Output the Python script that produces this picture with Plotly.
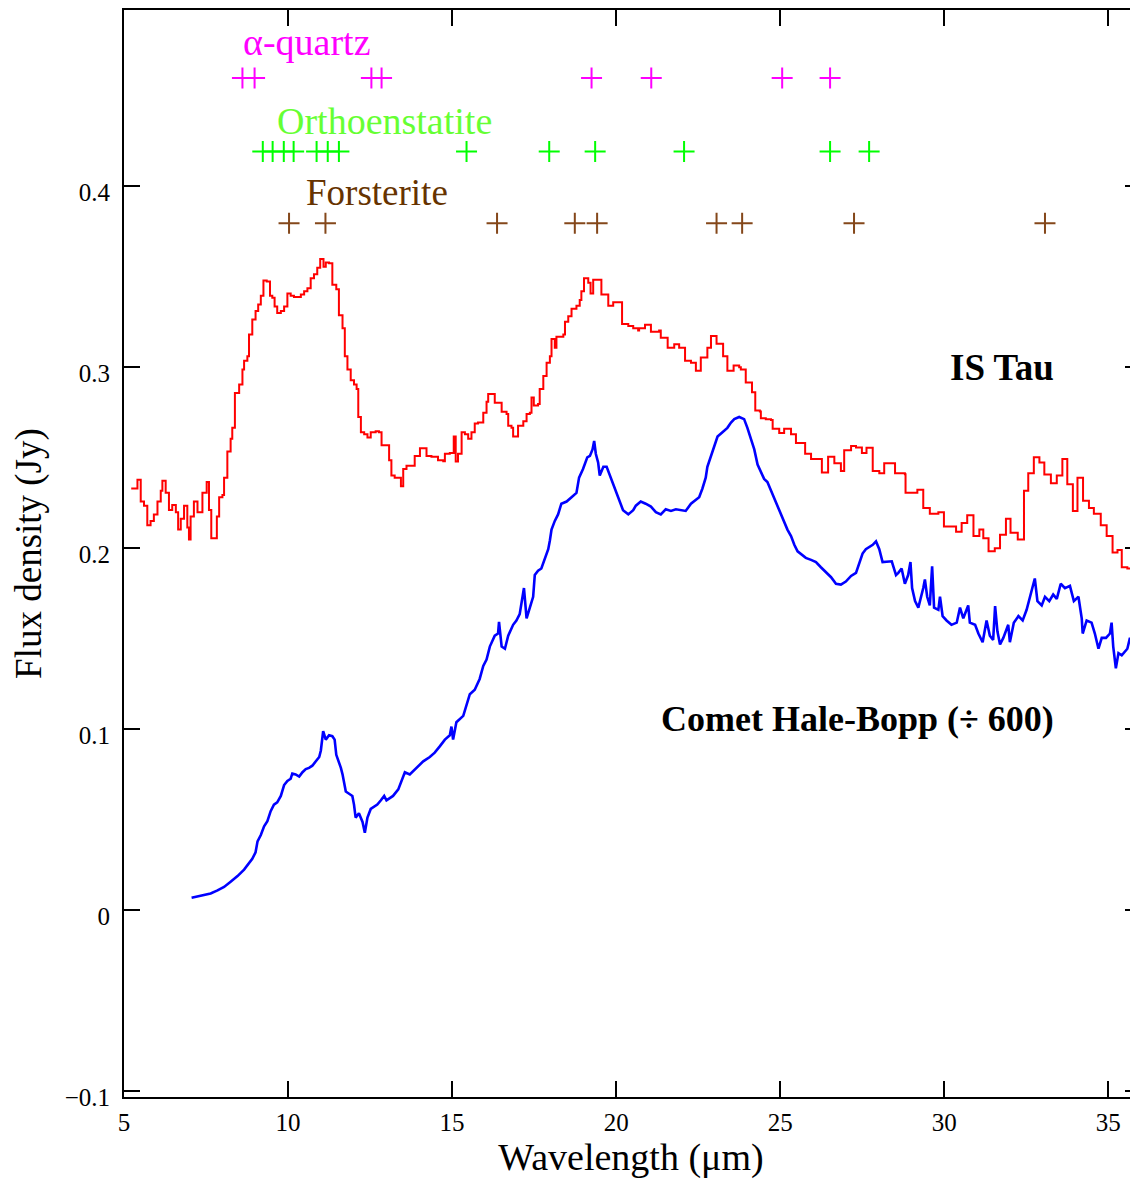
import plotly.graph_objects as go

# ---------------- data ----------------
# IS Tau spectrum (Jy) - step-like
is_tau_wl = [5.22, 5.41, 5.51, 5.61, 5.71, 5.81, 5.91, 6.02, 6.12, 6.17, 6.27, 6.37, 6.47, 6.58, 6.65, 6.73,
             6.83, 6.93, 6.98, 7.03, 7.13, 7.24, 7.39, 7.52, 7.59, 7.66, 7.74, 7.83, 7.90, 8.00, 8.05, 8.15,
             8.25, 8.30, 8.38, 8.51, 8.61, 8.66, 8.76, 8.81, 8.91, 9.01, 9.09, 9.17, 9.25, 9.35, 9.45, 9.52,
             9.59, 9.67, 9.78, 9.88, 9.98, 10.08, 10.18, 10.28, 10.39, 10.49, 10.59, 10.69, 10.79, 10.89,
             10.98, 11.08, 11.15, 11.25, 11.35, 11.47, 11.55, 11.66, 11.73, 11.81, 11.91, 12.01, 12.09,
             12.14, 12.22, 12.32, 12.42, 12.52, 12.67, 12.77, 12.85,
             12.90, 13.00, 13.08, 13.15, 13.25, 13.41, 13.44, 13.51, 13.61, 13.76, 13.86, 13.96, 14.02,
             14.17, 14.22, 14.37, 14.57, 14.73, 14.78, 14.93, 15.05, 15.11, 15.18, 15.29, 15.39, 15.49,
             15.59, 15.69, 15.79, 15.95, 16.05, 16.10, 16.25, 16.30, 16.45, 16.51, 16.66, 16.71, 16.81,
             16.86, 16.98, 17.01, 17.17, 17.27, 17.37, 17.42, 17.49, 17.62, 17.67, 17.78, 17.88, 17.98,
             18.03, 18.13, 18.18, 18.39, 18.44, 18.54, 18.64, 18.79, 18.89, 18.94, 19.02, 19.15, 19.22,
             19.30, 19.50, 19.55, 19.71, 19.76, 19.91, 20.03, 20.16, 20.18, 20.37, 20.52, 20.67,
             20.70, 20.88, 21.01, 21.06, 21.21, 21.31, 21.36, 21.51, 21.57, 21.72, 21.77, 21.87, 21.92,
             22.07, 22.10, 22.23, 22.28, 22.41, 22.43, 22.56, 22.58, 22.73, 22.78, 22.86, 22.89, 23.02,
             23.06, 23.22, 23.26, 23.36, 23.39, 23.55, 23.58, 23.75, 23.80, 23.92, 23.95, 24.11, 24.14,
             24.21, 24.24, 24.38, 24.41, 24.56, 24.72, 24.77, 24.92, 24.97, 25.12, 25.27, 25.33, 25.43,
             25.48, 25.73, 25.76, 25.90, 25.94, 26.24, 26.27, 26.42, 26.46, 26.62, 26.65, 26.80, 26.85,
             26.92, 26.95, 27.10, 27.16, 27.26, 27.31, 27.44, 27.49, 27.61, 27.63, 27.80, 27.82, 27.97,
             28.02, 28.14, 28.17, 28.45, 28.50, 28.65, 28.80, 28.82, 29.16, 29.18, 29.33, 29.36, 29.51,
             29.56, 29.77, 29.82, 29.97, 29.99, 30.33, 30.36, 30.50, 30.53, 30.66, 30.70, 30.86, 30.89,
             31.04, 31.07, 31.17, 31.19, 31.32, 31.35, 31.49, 31.54, 31.68, 31.70, 31.85, 31.88, 32.00,
             32.02, 32.21, 32.24, 32.41, 32.43, 32.51, 32.56, 32.69, 32.73, 32.87, 32.90, 33.02, 33.05,
             33.22, 33.25, 33.39, 33.43, 33.58, 33.60, 33.73, 33.75, 33.90, 33.92, 34.03, 34.06, 34.21,
             34.23, 34.39, 34.41, 34.54, 34.56, 34.75, 34.77, 34.92, 34.95, 35.10, 35.13, 35.25, 35.28,
             35.37, 35.41, 35.56, 35.58, 35.73, 35.75, 35.90]
is_tau_flux = [0.2329, 0.2377, 0.2257, 0.2234, 0.2126, 0.2150, 0.2186, 0.2257, 0.2317, 0.2372, 0.2305,
               0.2210, 0.2238, 0.2198, 0.2102, 0.2162, 0.2234, 0.2114, 0.2047, 0.2174, 0.2257, 0.2198,
               0.2305, 0.2365, 0.2210, 0.2054, 0.2054, 0.2174, 0.2281, 0.2293, 0.2389, 0.2533, 0.2604,
               0.2664, 0.2856, 0.2903, 0.2987, 0.3035, 0.3059, 0.3179, 0.3262, 0.3310, 0.3346, 0.3394,
               0.3478, 0.3473, 0.3394, 0.3382, 0.3334, 0.3298, 0.3310, 0.3334, 0.3406, 0.3394, 0.3387,
               0.3387, 0.3401, 0.3418, 0.3435, 0.3490, 0.3513, 0.3549, 0.3597, 0.3554, 0.3578, 0.3573,
               0.3454, 0.3430, 0.3286, 0.3214, 0.3059, 0.2987, 0.2927, 0.2903, 0.2879, 0.2724, 0.2640,
               0.2628, 0.2611, 0.2640, 0.2645, 0.2640, 0.2568,
               0.2568, 0.2568, 0.2485, 0.2401, 0.2389, 0.2389, 0.2341, 0.2437, 0.2454, 0.2454, 0.2509,
               0.2509, 0.2552, 0.2552, 0.2509, 0.2504, 0.2485, 0.2480, 0.2521, 0.2525, 0.2616, 0.2478,
               0.2521, 0.2640, 0.2628, 0.2604, 0.2640, 0.2688, 0.2693, 0.2748, 0.2808, 0.2851, 0.2851,
               0.2803, 0.2803, 0.2753, 0.2741, 0.2676, 0.2664, 0.2616, 0.2616, 0.2676, 0.2700, 0.2741,
               0.2748, 0.2832, 0.2788, 0.2796, 0.2879, 0.2951, 0.3023, 0.3059, 0.3155, 0.3107, 0.3167,
               0.3179, 0.3250, 0.3281, 0.3322, 0.3339, 0.3370, 0.3418, 0.3490, 0.3466, 0.3406, 0.3482,
               0.3482, 0.3401, 0.3401, 0.3339, 0.3358, 0.3358, 0.3358, 0.3238, 0.3226, 0.3214, 0.3202,
               0.3214, 0.3233, 0.3233, 0.3195, 0.3195, 0.3202, 0.3162, 0.3162, 0.3107, 0.3107, 0.3126,
               0.3126, 0.3107, 0.3107, 0.3035, 0.3035, 0.3023, 0.3023, 0.2980, 0.2980, 0.3052, 0.3052,
               0.3107, 0.3107, 0.3171, 0.3171, 0.3128, 0.3128, 0.3059, 0.3059, 0.2980, 0.2980, 0.3009,
               0.2999, 0.2987, 0.2987, 0.2915, 0.2915, 0.2860, 0.2860, 0.2760, 0.2755, 0.2717, 0.2712,
               0.2707, 0.2659, 0.2659, 0.2635, 0.2659, 0.2659, 0.2628, 0.2628, 0.2580, 0.2580, 0.2521,
               0.2521, 0.2492, 0.2492, 0.2418, 0.2418, 0.2504, 0.2504, 0.2468, 0.2468, 0.2425, 0.2425,
               0.2540, 0.2540, 0.2564, 0.2564, 0.2556, 0.2556, 0.2525, 0.2525, 0.2554, 0.2554, 0.2425,
               0.2425, 0.2413, 0.2413, 0.2468, 0.2468, 0.2413, 0.2413, 0.2408, 0.2305, 0.2305, 0.2322,
               0.2322, 0.2222, 0.2222, 0.2190, 0.2190, 0.2198, 0.2198, 0.2119, 0.2119, 0.2090, 0.2090,
               0.2138, 0.2138, 0.2181, 0.2181, 0.2066, 0.2066, 0.2102, 0.2102, 0.2054, 0.2054, 0.1982,
               0.1982, 0.1999, 0.1999, 0.2073, 0.2073, 0.2162, 0.2162, 0.2085, 0.2085, 0.2047, 0.2047,
               0.2317, 0.2317, 0.2413, 0.2413, 0.2502, 0.2502, 0.2473, 0.2473, 0.2406, 0.2406, 0.2358,
               0.2358, 0.2401, 0.2401, 0.2492, 0.2492, 0.2353, 0.2353, 0.2205, 0.2205, 0.2389, 0.2389,
               0.2262, 0.2262, 0.2222, 0.2222, 0.2190, 0.2190, 0.2126, 0.2126, 0.2066, 0.2066, 0.1975,
               0.1975, 0.1990, 0.1990, 0.1894, 0.1894, 0.1887, 0.1887, 0.1951, 0.1951]

# Comet Hale-Bopp spectrum (Jy / 600)
hb_wl = [7.06, 7.24, 7.44, 7.64, 7.85, 8.05, 8.25, 8.46, 8.66, 8.81, 8.91, 9.01, 9.07, 9.17, 9.27, 9.37,
         9.47, 9.57, 9.67, 9.78, 9.88, 9.98, 10.08, 10.13, 10.23, 10.34, 10.44, 10.54, 10.64, 10.74,
         10.84, 10.95, 11.00, 11.07, 11.15, 11.25, 11.35, 11.42, 11.47, 11.55, 11.61, 11.66, 11.71,
         11.76, 11.86, 11.96, 12.01, 12.06, 12.16, 12.27, 12.34, 12.42, 12.52, 12.62, 12.72, 12.83,
         12.93, 13.00, 13.20, 13.36, 13.46, 13.56, 13.71, 13.91, 14.12, 14.32, 14.47, 14.63, 14.78,
         14.93, 14.98, 15.03, 15.13, 15.34, 15.44, 15.54, 15.69, 15.84, 15.95, 16.05, 16.15, 16.30,
         16.40, 16.43, 16.51, 16.61, 16.71, 16.86, 16.96, 17.06, 17.19, 17.27, 17.37, 17.47, 17.52,
         17.62, 17.72, 17.83, 17.93, 17.98, 18.03, 18.13, 18.23, 18.33, 18.49, 18.64, 18.79, 18.87,
         18.99, 19.12, 19.20, 19.28, 19.33, 19.38, 19.45, 19.50, 19.61, 19.71, 19.81, 19.91, 20.01,
         20.11, 20.21, 20.37, 20.52, 20.60, 20.75, 20.90, 21.06, 21.21, 21.36, 21.51, 21.67, 21.82,
         21.97, 22.12, 22.28, 22.43, 22.53, 22.63, 22.73, 22.78, 22.89, 22.99, 23.09, 23.24, 23.39,
         23.50, 23.60, 23.75, 23.90, 24.00, 24.11, 24.21, 24.31, 24.41, 24.51, 24.61, 24.72, 24.82,
         24.92, 25.02, 25.12, 25.22, 25.33, 25.43, 25.53, 25.63, 25.78, 25.94, 26.09, 26.24, 26.39,
         26.55, 26.70, 26.85, 27.00, 27.16, 27.31, 27.41, 27.51, 27.61, 27.71, 27.82, 27.92, 28.02,
         28.12, 28.27, 28.40, 28.53, 28.60, 28.70, 28.80, 28.90, 28.97, 29.02, 29.11, 29.21, 29.28,
         29.36, 29.41, 29.48, 29.56, 29.63, 29.69, 29.82, 29.87, 29.95, 30.07, 30.22, 30.38, 30.48,
         30.58, 30.73, 30.78, 30.94, 31.04, 31.17, 31.29, 31.39, 31.49, 31.55, 31.62, 31.70, 31.80,
         31.95, 32.00, 32.12, 32.26, 32.39, 32.51, 32.61, 32.76, 32.84, 32.97, 33.07, 33.20, 33.32,
         33.43, 33.55, 33.68, 33.83, 33.95, 34.09, 34.19, 34.22, 34.34, 34.49, 34.59, 34.70, 34.80,
         34.93, 35.05, 35.10, 35.15, 35.23, 35.31, 35.41, 35.51, 35.58, 35.66, 35.76, 35.90]
hb_flux = [0.0068, 0.0076, 0.0085, 0.0092, 0.0109, 0.0128, 0.0157, 0.0188, 0.0224, 0.0260, 0.0284,
           0.0320, 0.0380, 0.0415, 0.0463, 0.0492, 0.0547, 0.0583, 0.0595, 0.0631, 0.0691, 0.0714,
           0.0726, 0.0755, 0.0750, 0.0738, 0.0762, 0.0779, 0.0786, 0.0798, 0.0822, 0.0846, 0.0882,
           0.0989, 0.0942, 0.0966, 0.0961, 0.0942, 0.0858, 0.0822, 0.0786, 0.0750, 0.0703, 0.0655,
           0.0643, 0.0631, 0.0583, 0.0511, 0.0535, 0.0487, 0.0427, 0.0511, 0.0559, 0.0571, 0.0583,
           0.0607, 0.0631, 0.0607, 0.0631, 0.0667, 0.0714, 0.0762, 0.0750, 0.0786, 0.0822, 0.0846,
           0.0870, 0.0906, 0.0942, 0.0966, 0.1014, 0.0942, 0.1038, 0.1073, 0.1133, 0.1193, 0.1217,
           0.1277, 0.1349, 0.1384, 0.1456, 0.1516, 0.1528, 0.1592, 0.1456, 0.1444, 0.1516, 0.1576,
           0.1600, 0.1635, 0.1779, 0.1612, 0.1671, 0.1731, 0.1851, 0.1875, 0.1887, 0.1946, 0.1994,
           0.2042, 0.2102, 0.2150, 0.2186, 0.2245, 0.2257, 0.2281, 0.2305, 0.2389, 0.2437, 0.2501,
           0.2509, 0.2545, 0.2592, 0.2521, 0.2473, 0.2401, 0.2449, 0.2449, 0.2401, 0.2353, 0.2305,
           0.2257, 0.2209, 0.2186, 0.2209, 0.2234, 0.2257, 0.2245, 0.2229, 0.2198, 0.2186, 0.2214,
           0.2205, 0.2214, 0.2210, 0.2205, 0.2245, 0.2269, 0.2281, 0.2329, 0.2389, 0.2449, 0.2509,
           0.2557, 0.2616, 0.2640, 0.2664, 0.2693, 0.2712, 0.2724, 0.2712, 0.2664, 0.2604, 0.2545,
           0.2461, 0.2425, 0.2382, 0.2365, 0.2317, 0.2281, 0.2234, 0.2186, 0.2150, 0.2102, 0.2066,
           0.2018, 0.1982, 0.1966, 0.1946, 0.1935, 0.1923, 0.1894, 0.1870, 0.1839, 0.1803, 0.1798,
           0.1815, 0.1846, 0.1863, 0.1923, 0.1970, 0.1994, 0.2006, 0.2018, 0.2037, 0.1994, 0.1923,
           0.1923, 0.1927, 0.1851, 0.1863, 0.1887, 0.1803, 0.1851, 0.1923, 0.1779, 0.1707, 0.1671,
           0.1719, 0.1779, 0.1827, 0.1731, 0.1683, 0.1899, 0.1671, 0.1659, 0.1731, 0.1624, 0.1600,
           0.1576, 0.1588, 0.1671, 0.1612, 0.1683, 0.1588, 0.1576, 0.1528, 0.1480, 0.1600, 0.1516,
           0.1492, 0.1679, 0.1540, 0.1468, 0.1504, 0.1576, 0.1480, 0.1588, 0.1624, 0.1600, 0.1659,
           0.1731, 0.1832, 0.1707, 0.1683, 0.1731, 0.1707, 0.1743, 0.1719, 0.1803, 0.1779, 0.1791,
           0.1707, 0.1731, 0.1612, 0.1528, 0.1600, 0.1588, 0.1528, 0.1444, 0.1504, 0.1504, 0.1528,
           0.1588, 0.1456, 0.1336, 0.1420, 0.1408, 0.1432, 0.1444, 0.1504, 0.1432, 0.1444]

# Laboratory band positions (micron)
quartz_bands = [8.61, 8.98, 12.54, 12.85, 19.25, 21.07, 25.06, 26.52]
enstatite_bands = [9.23, 9.53, 9.87, 10.17, 10.87, 11.21, 11.55, 15.44, 17.96, 19.36, 22.07, 26.52, 27.71]
forsterite_bands = [10.03, 11.14, 16.37, 18.74, 19.42, 23.06, 23.84, 27.25, 33.07]
quartz_level = 0.4597
enstatite_level = 0.4190
forsterite_level = 0.3794

x_ticks = [5, 10, 15, 20, 25, 30, 35]
y_ticks = [-0.1, 0, 0.1, 0.2, 0.3, 0.4]

FONT = "Liberation Serif"
MAGENTA = "#ff00ff"
GREEN = "#00ff00"
GREEN_TXT = "#66ff33"
BROWN = "#84471a"
BROWN_TXT = "#663300"
Y_RANGE = [-0.1032, 0.4972]

fig = go.Figure()

fig.add_trace(go.Scatter(x=is_tau_wl, y=is_tau_flux, mode="lines", line=dict(color="#ff0000", width=2, shape="hv"),
                         showlegend=False, hoverinfo="skip"))
fig.add_trace(go.Scatter(x=hb_wl, y=hb_flux, mode="lines", line=dict(color="#0000ff", width=2.6),
                         showlegend=False, hoverinfo="skip"))

for bands, level, col in [(quartz_bands, quartz_level, MAGENTA),
                          (enstatite_bands, enstatite_level, GREEN),
                          (forsterite_bands, forsterite_level, BROWN)]:
    fig.add_trace(go.Scatter(x=bands, y=[level] * len(bands), mode="markers",
                             marker=dict(symbol="cross-thin", size=15, line=dict(color=col, width=2)),
                             showlegend=False, hoverinfo="skip"))

# dummy trace for right-hand tick axis
fig.add_trace(go.Scatter(x=[None], y=[None], yaxis="y2", showlegend=False, hoverinfo="skip"))

ann = [
    dict(text="α-quartz", x=8.56, y=0.4796, color=MAGENTA, size=38, xanchor="left"),
    dict(text="Orthoenstatite", x=9.60, y=0.4360, color=GREEN_TXT, size=38, xanchor="left"),
    dict(text="Forsterite", x=10.48, y=0.3963, color=BROWN_TXT, size=37, xanchor="left"),
    dict(text="<b>IS Tau</b>", x=33.41, y=0.2998, color="black", size=37, xanchor="right"),
    dict(text="<b>Comet Hale-Bopp (÷ 600)</b>", x=33.41, y=0.1057, color="black", size=36, xanchor="right"),
]
for a in ann:
    fig.add_annotation(x=a["x"], y=a["y"], xref="x", yref="y", text=a["text"], showarrow=False,
                       xanchor=a["xanchor"], yanchor="middle",
                       font=dict(family=FONT, size=a["size"], color=a["color"]))

fig.update_layout(
    width=1130, height=1171,
    margin=dict(l=116, r=0, t=0, b=82),
    paper_bgcolor="white", plot_bgcolor="white",
    font=dict(family=FONT, color="black"),
    xaxis=dict(range=[5, 35.905], tickvals=x_ticks, ticks="inside", ticklen=16, tickwidth=2,
               tickcolor="black", showline=True, linecolor="black", linewidth=2, mirror="ticks",
               showgrid=False, zeroline=False, tickfont=dict(family=FONT, size=25), ticklabelstandoff=2,
               title=dict(text="Wavelength (μm)", font=dict(family=FONT, size=38), standoff=14)),
    yaxis=dict(range=Y_RANGE, tickvals=y_ticks, ticks="inside", ticklen=16, tickwidth=2,
               tickcolor="black", showline=True, linecolor="black", linewidth=2, mirror=False,
               showgrid=False, zeroline=False, tickfont=dict(family=FONT, size=25),
               ticklabelstandoff=7, ticklabelshift=6,
               title=dict(text="Flux density (Jy)", font=dict(family=FONT, size=37), standoff=14)),
    yaxis2=dict(range=Y_RANGE, tickvals=y_ticks, overlaying="y", side="right",
                ticks="inside", ticklen=13, tickwidth=2, tickcolor="black", showline=False,
                showgrid=False, zeroline=False, showticklabels=False),
)

fig.write_html("out.html")
